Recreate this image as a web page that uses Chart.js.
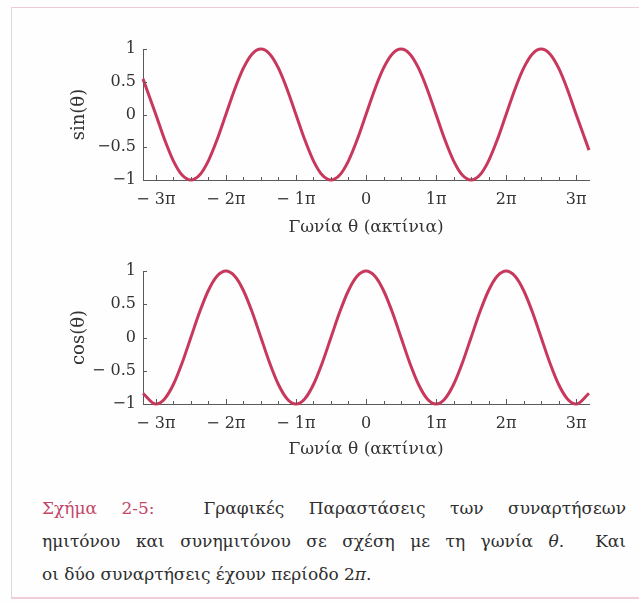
<!DOCTYPE html>
<html lang="el">
<head>
<meta charset="utf-8">
<script src="https://cdn.jsdelivr.net/npm/chart.js@4.4.1/dist/chart.umd.min.js"></script>
<style>
  html, body { margin: 0; padding: 0; background: #fff; }
  #page {
    position: relative; width: 639px; height: 602px; overflow: hidden;
    background: #fefefe; font-family: "DejaVu Serif", "Noto Serif", serif;
  }
  #frame {
    position: absolute; left: 11px; top: 7px; width: 640px; height: 589px;
    border-left: 1px solid #d8d8d8; border-top: 1px solid #ecccd6; border-bottom: 2px solid #f2cdd8;
  }
  canvas { position: absolute; left: 0; }
  #chart-sin { top: 0; }
  #chart-cos { top: 240px; }
  #caption {
    position: absolute; left: 42px; top: 492px; width: 584px;
    font-size: 17px; color: #2e2e2e;
  }
  #caption .line { height: 33px; line-height: 33px; text-align: justify; text-align-last: justify; }
  #caption .line.last { text-align-last: left; }
  #caption .fig { color: #c2476a; }
</style>
</head>
<body>
<div id="page">
  <div id="frame"></div>
  <canvas id="chart-sin" width="639" height="240"></canvas>
  <canvas id="chart-cos" width="639" height="226"></canvas>
  <div id="caption">
    <div class="line"><span class="fig">Σχήμα 2-5:</span>&nbsp; Γραφικές Παραστάσεις των συναρτήσεων</div>
    <div class="line">ημιτόνου και συνημιτόνου σε σχέση με τη γωνία <i>θ</i>.&nbsp; Και</div>
    <div class="line last">οι δύο συναρτήσεις έχουν περίοδο 2<i>π</i>.</div>
  </div>
</div>
<script>
// γωνία σε μονάδες π
const thetaPi = [
  -3.183, -3, -2.875, -2.75, -2.625, -2.5, -2.375, -2.25, -2.125,
  -2, -1.875, -1.75, -1.625, -1.5, -1.375, -1.25, -1.125,
  -1, -0.875, -0.75, -0.625, -0.5, -0.375, -0.25, -0.125,
  0, 0.125, 0.25, 0.375, 0.5, 0.625, 0.75, 0.875,
  1, 1.125, 1.25, 1.375, 1.5, 1.625, 1.75, 1.875,
  2, 2.125, 2.25, 2.375, 2.5, 2.625, 2.75, 2.875,
  3, 3.183
];

const sinValues = [
  0.544, 0, -0.383, -0.707, -0.924, -1, -0.924, -0.707, -0.383,
  0, 0.383, 0.707, 0.924, 1, 0.924, 0.707, 0.383,
  0, -0.383, -0.707, -0.924, -1, -0.924, -0.707, -0.383,
  0, 0.383, 0.707, 0.924, 1, 0.924, 0.707, 0.383,
  0, -0.383, -0.707, -0.924, -1, -0.924, -0.707, -0.383,
  0, 0.383, 0.707, 0.924, 1, 0.924, 0.707, 0.383,
  0, -0.544
];

const cosValues = [
  -0.839, -1, -0.924, -0.707, -0.383, 0, 0.383, 0.707, 0.924,
  1, 0.924, 0.707, 0.383, 0, -0.383, -0.707, -0.924,
  -1, -0.924, -0.707, -0.383, 0, 0.383, 0.707, 0.924,
  1, 0.924, 0.707, 0.383, 0, -0.383, -0.707, -0.924,
  -1, -0.924, -0.707, -0.383, 0, 0.383, 0.707, 0.924,
  1, 0.924, 0.707, 0.383, 0, -0.383, -0.707, -0.924,
  -1, -0.839
];

const xTickValues = [-3, -2, -1, 0, 1, 2, 3];
const xTickLabels = ['− 3π', '− 2π', '− 1π', '0', '1π', '2π', '3π'];
const yTickValues = [-1, -0.5, 0, 0.5, 1];
const sinTickLabels = ['−1', '−0.5', '0', '0.5', '1'];
const cosTickLabels = ['−1', '− 0.5', '0', '0.5', '1'];

const xTitle = 'Γωνία θ (ακτίνια)';
const lineColor = '#c8385c';
const axisColor = '#5a5a5a';
const textColor = '#333';
const serif = '"DejaVu Serif", "Noto Serif", serif';

// μικρές γραμμές υποδιαίρεσης προς τα μέσα
const inwardTicks = {
  id: 'inwardTicks',
  afterDatasetsDraw(chart) {
    const { ctx, chartArea, scales: { x, y } } = chart;
    ctx.save();
    ctx.strokeStyle = axisColor;
    ctx.lineWidth = 1;
    ctx.beginPath();
    xTickValues.forEach((v, i) => {
      const px = Math.round(x.getPixelForValue(v)) + 0.5;
      ctx.moveTo(px, chartArea.bottom);
      ctx.lineTo(px, chartArea.bottom - 5);
      if (i < xTickValues.length - 1) {
        for (let q = 1; q < 4; q++) {
          const mx = Math.round(x.getPixelForValue(v + q / 4)) + 0.5;
          ctx.moveTo(mx, chartArea.bottom);
          ctx.lineTo(mx, chartArea.bottom - 3);
        }
      }
    });
    yTickValues.forEach(v => {
      const py = Math.round(y.getPixelForValue(v)) + 0.5;
      ctx.moveTo(chartArea.left, py);
      ctx.lineTo(chartArea.left + 4, py);
    });
    ctx.stroke();
    ctx.restore();
  }
};

function makeChart(id, values, yTitle, yLabels, geo) {
  return new Chart(document.getElementById(id), {
    type: 'line',
    data: {
      datasets: [{
        data: thetaPi.map((t, i) => ({ x: t, y: values[i] })),
        borderColor: lineColor,
        borderWidth: 3,
        pointRadius: 0,
        clip: 6,
        cubicInterpolationMode: 'monotone'
      }]
    },
    options: {
      responsive: false,
      animation: false,
      layout: { padding: { top: geo.top, right: 50, left: 0, bottom: 0 } },
      plugins: { legend: { display: false }, tooltip: { enabled: false } },
      scales: {
        x: {
          type: 'linear',
          min: thetaPi[0],
          max: thetaPi[thetaPi.length - 1],
          afterBuildTicks: s => { s.ticks = xTickValues.map(v => ({ value: v })); },
          afterFit: s => { s.height = geo.axisHeight; },
          grid: { display: false, drawTicks: false },
          border: { color: axisColor, width: 1 },
          ticks: {
            autoSkip: false, maxRotation: 0, padding: 10,
            color: textColor, font: { family: serif, size: 16 },
            callback: v => xTickLabels[xTickValues.indexOf(v)]
          },
          title: {
            display: true, text: xTitle, color: textColor,
            font: { family: serif, size: 17 },
            padding: { top: 0, bottom: geo.titlePad }
          }
        },
        y: {
          min: -1,
          max: 1,
          afterBuildTicks: s => { s.ticks = yTickValues.map(v => ({ value: v })); },
          afterFit: s => { s.width = 143; },
          grid: { display: false, drawTicks: false },
          border: { color: axisColor, width: 1 },
          ticks: {
            padding: 7, color: textColor, font: { family: serif, size: 16 },
            callback: v => yLabels[yTickValues.indexOf(v)]
          },
          title: {
            display: true, text: yTitle, color: textColor,
            font: { family: serif, size: 18 },
            padding: { top: 69, bottom: 0 }
          }
        }
      }
    },
    plugins: [inwardTicks]
  });
}

makeChart('chart-sin', sinValues, 'sin(θ)', sinTickLabels, { top: 49, axisHeight: 60, titlePad: 2 });
makeChart('chart-cos', cosValues, 'cos(θ)', cosTickLabels, { top: 31, axisHeight: 62, titlePad: 6 });
</script>
</body>
</html>
